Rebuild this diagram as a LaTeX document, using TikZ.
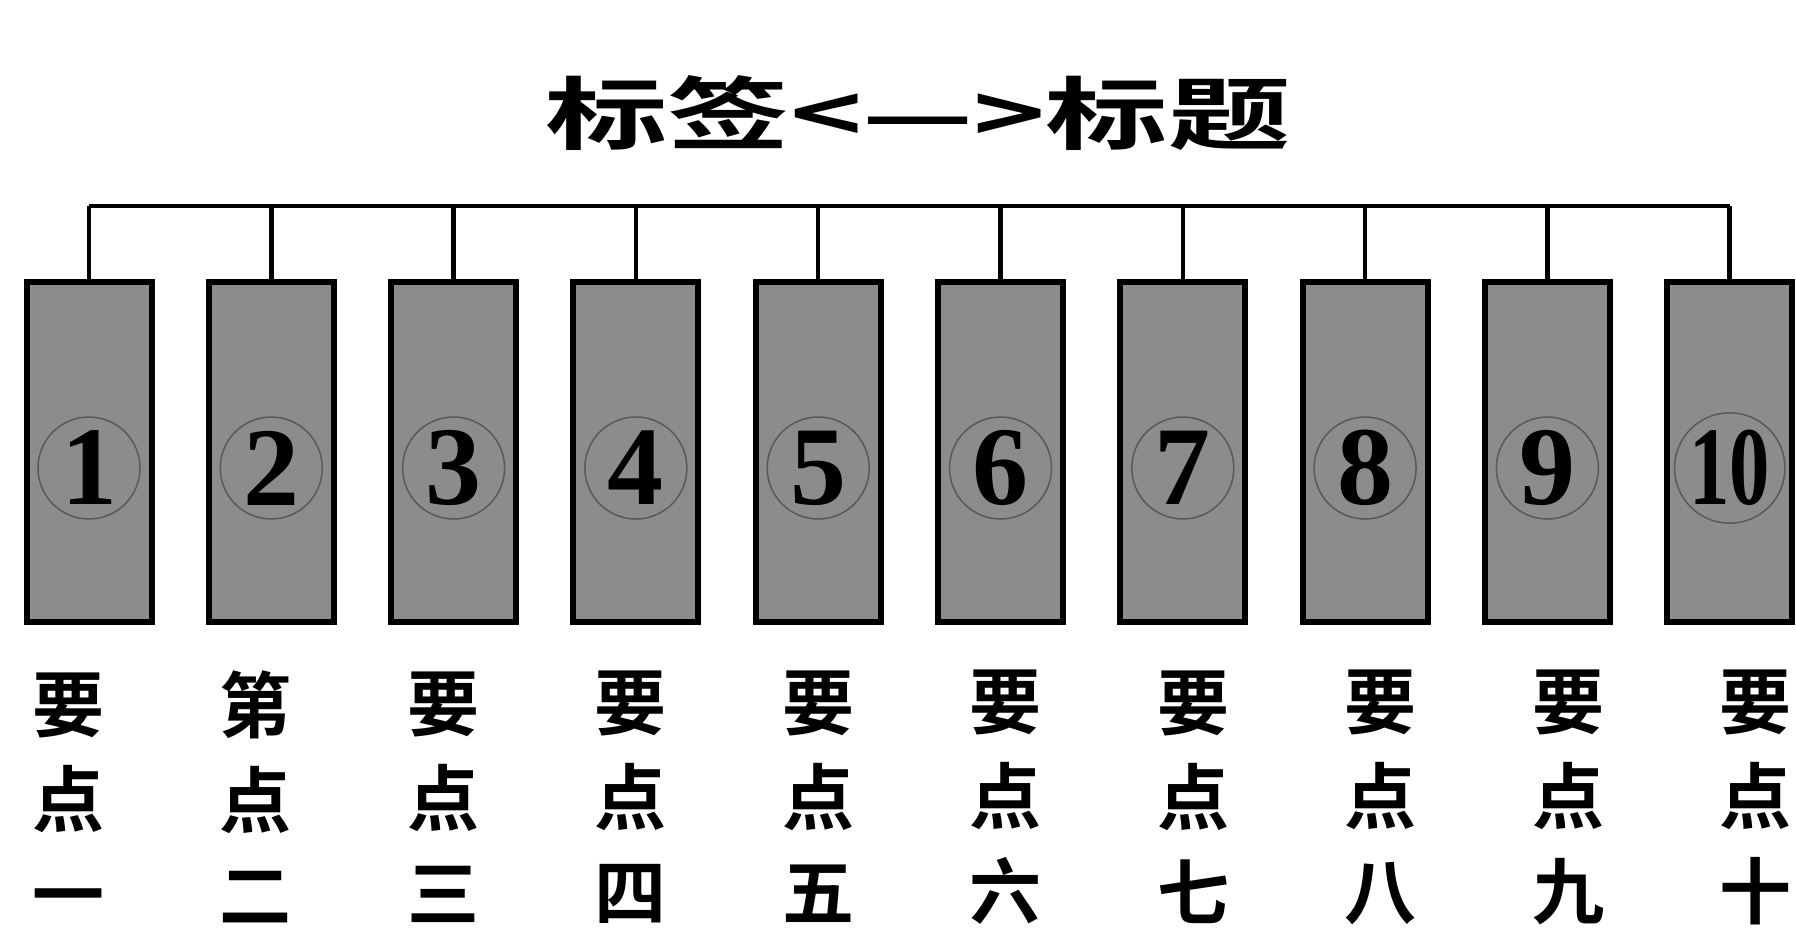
\documentclass[tikz,border=0pt]{standalone}
\usepackage{fontspec}
\newfontfamily\cjk{Noto Sans CJK SC}[BoldFont={Noto Sans CJK SC Bold}]
\newfontfamily\numfont{Liberation Serif}

\begin{document}
\begin{tikzpicture}[x=1pt, y=-1pt,
  card/.style={draw, line width=6pt, fill=black!45, minimum width=125pt, minimum height=340pt, inner sep=0pt},
  ring/.style={circle, draw=black!65, line width=1.5pt, minimum size=102pt, inner sep=0pt, font=\numfont\bfseries\fontsize{112}{112}\selectfont},
  point/.style={font=\cjk\bfseries\fontsize{72}{95}\selectfont, align=center, inner sep=0pt},
  wire/.style={line width=4.5pt}]
\useasboundingbox (0,0) rectangle (1796,942);
\node[font=\cjk\bfseries\fontsize{120}{120}\selectfont, inner sep=0pt] (title) at (918,113) {\scalebox{1.02}[0.66]{标签<—>标题}};
\coordinate (bus) at (0,206); % height of the top bar
\foreach \i/\a/\c in {1/要/一,2/第/二,3/要/三,4/要/四,5/要/五,6/要/六,7/要/七,8/要/八,9/要/九,10/要/十}{
  \node[card] (b\i) at ({89+(\i-1)*182.3},452) {};
  \node[ring] (n\i) at ([yshift=-16pt]b\i.center) {\ifnum\i=10 \scalebox{0.72}[1]{10}\else\i\fi};
  \draw[wire] (b\i.north) -- (b\i.north |- bus);
  \node[point] (p\i) at ({68+(\i-1)*187.5},797) {\a\\点\\\c};
}
\draw[wire] (b1.north |- bus) -- (b10.north |- bus); % top bar
\end{tikzpicture}
\end{document}
